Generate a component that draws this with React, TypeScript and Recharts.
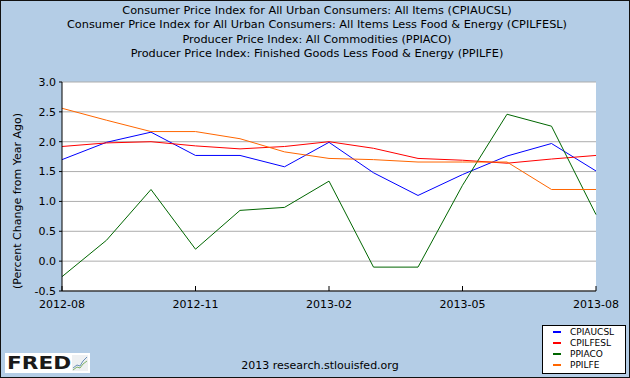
import { LineChart, Line, XAxis, YAxis, CartesianGrid, Legend } from "recharts";

// monthly observations, percent change from year ago
const months = [
  "2012-08", "2012-09", "2012-10", "2012-11", "2012-12", "2013-01", "2013-02",
  "2013-03", "2013-04", "2013-05", "2013-06", "2013-07", "2013-08",
];
const cpiaucsl = [1.7, 1.99, 2.16, 1.77, 1.77, 1.58, 1.99, 1.48, 1.1, 1.45, 1.76, 1.97, 1.51];
const cpilfesl = [1.92, 1.98, 2.0, 1.93, 1.88, 1.92, 2.0, 1.89, 1.72, 1.69, 1.64, 1.71, 1.77];
const ppiaco = [-0.26, 0.35, 1.2, 0.2, 0.85, 0.9, 1.34, -0.1, -0.1, 1.27, 2.46, 2.26, 0.78];
const ppilfe = [2.56, 2.36, 2.17, 2.17, 2.05, 1.83, 1.72, 1.7, 1.66, 1.66, 1.66, 1.2, 1.2];
const yTicks = [-0.5, 0, 0.5, 1, 1.5, 2, 2.5, 3];

const titles = [
  "Consumer Price Index for All Urban Consumers: All Items (CPIAUCSL)",
  "Consumer Price Index for All Urban Consumers: All Items Less Food & Energy (CPILFESL)",
  "Producer Price Index: All Commodities (PPIACO)",
  "Producer Price Index: Finished Goods Less Food & Energy (PPILFE)",
];

const series = [
  { key: "CPIAUCSL", color: "#0000FF", values: cpiaucsl },
  { key: "CPILFESL", color: "#FF0000", values: cpilfesl },
  { key: "PPIACO", color: "#006600", values: ppiaco },
  { key: "PPILFE", color: "#FF6600", values: ppilfe },
];

const data = months.map((month, i) => {
  const row: Record<string, string | number> = { month };
  series.forEach((s) => {
    row[s.key] = s.values[i];
  });
  return row;
});

const FONT = '"DejaVu Sans", Verdana, sans-serif';

function FredLegend({ payload }: { payload?: Array<{ value: string; color: string }> }) {
  if (!payload) return null;
  return (
    <div
      style={{
        width: 84,
        height: 49,
        boxSizing: "border-box",
        background: "#fff",
        border: "1px solid #000",
        paddingTop: 1,
        fontFamily: FONT,
        fontSize: 9,
        color: "#000",
      }}
    >
      {payload.map((entry) => (
        <div
          key={entry.value}
          style={{ display: "flex", alignItems: "center", height: 10.9 }}
        >
          <span
            style={{
              display: "inline-block",
              width: 8,
              height: 2,
              background: entry.color,
              marginLeft: 10,
              marginRight: 9,
            }}
          />
          <span>{entry.value}</span>
        </div>
      ))}
    </div>
  );
}

function FredLogo() {
  return (
    <div
      style={{
        position: "absolute",
        left: 5,
        top: 353,
        width: 85,
        height: 20,
        background: "#fff",
      }}
    >
      <span
        style={{
          position: "absolute",
          left: 2,
          top: 0,
          fontFamily: '"DejaVu Sans", sans-serif',
          fontWeight: 900,
          fontSize: 18,
          lineHeight: "20px",
          color: "#1a1a1a",
          transform: "scaleX(1.2)",
          transformOrigin: "left center",
        }}
      >
        FRED
      </span>
      <svg width={16} height={16} style={{ position: "absolute", left: 67, top: 2 }}>
        <rect x={0} y={0} width={16} height={16} fill="#eef0f2" />
        <polyline points="1,13 5,10 8,11 11,6 15,2" fill="none" stroke="#6a8fb8" strokeWidth={1} />
        <polyline points="1,15 5,12 8,13 11,9 15,6" fill="none" stroke="#7fb069" strokeWidth={1} />
      </svg>
    </div>
  );
}

export default function App() {
  return (
    <div
      style={{
        position: "absolute",
        left: 0,
        top: 0,
        width: 630,
        height: 378,
        background: "#B4CDE6",
        fontFamily: FONT,
        overflow: "hidden",
      }}
    >
      <div
        style={{
          position: "absolute",
          left: 2,
          top: 4,
          width: 630,
          textAlign: "center",
          fontSize: 11.3,
          lineHeight: "14.3px",
          color: "#000",
        }}
      >
        {titles.map((t) => (
          <div key={t}>{t}</div>
        ))}
      </div>

      <div
        style={{
          position: "absolute",
          left: 17,
          top: 201,
          transform: "translate(-50%, -50%) rotate(-90deg)",
          whiteSpace: "nowrap",
          fontSize: 11,
          color: "#000",
        }}
      >
        (Percent Change from Year Ago)
      </div>

      <LineChart
        width={630}
        height={378}
        data={data}
        margin={{ top: 82, right: 34, bottom: 57, left: 0 }}
        style={{ position: "absolute", left: 0, top: 0 }}
      >
        <CartesianGrid vertical={false} stroke="#ADADAD" fill="#fff" />
        <XAxis
          dataKey="month"
          interval={2}
          height={30}
          axisLine={{ stroke: "#000" }}
          tickLine={{ stroke: "#000" }}
          tickSize={-5}
          tickMargin={14}
          tick={{ fill: "#000", fontSize: 11, fontFamily: FONT }}
        />
        <YAxis
          domain={[-0.5, 3]}
          ticks={yTicks}
          width={62}
          allowDataOverflow
          axisLine={{ stroke: "#000" }}
          tickLine={{ stroke: "#000" }}
          tickSize={3}
          tickMargin={3}
          tickFormatter={(v: number) => v.toFixed(1)}
          tick={{ fill: "#000", fontSize: 11, fontFamily: FONT }}
        />
        <Legend
          layout="vertical"
          align="center"
          verticalAlign="middle"
          content={<FredLegend />}
          wrapperStyle={{ left: 542, top: 325, width: 84, height: 49 }}
        />
        {series.map((s) => (
          <Line
            key={s.key}
            dataKey={s.key}
            name={s.key}
            stroke={s.color}
            strokeWidth={1}
            dot={false}
            activeDot={false}
            type="linear"
            isAnimationActive={false}
          />
        ))}
      </LineChart>

      <FredLogo />

      <div
        style={{
          position: "absolute",
          left: 0,
          width: 640,
          top: 359,
          textAlign: "center",
          fontSize: 11,
          color: "#000",
        }}
      >
        2013 research.stlouisfed.org
      </div>

      <div
        style={{
          position: "absolute",
          inset: 0,
          border: "1px solid #111",
          pointerEvents: "none",
        }}
      />
    </div>
  );
}
